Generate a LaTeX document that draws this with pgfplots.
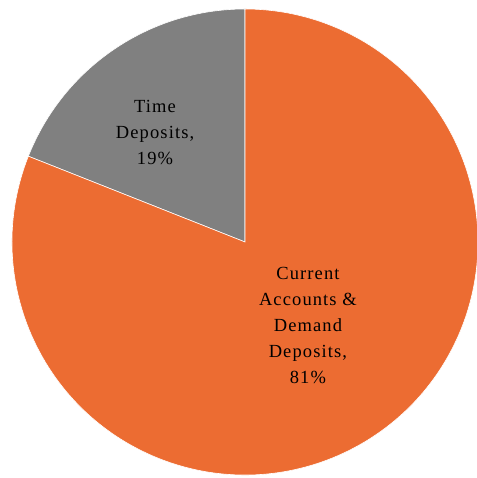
\documentclass[border=0pt]{standalone}
\usepackage{pgfplots}
\pgfplotsset{compat=1.18}
\usepackage{fontspec}
\setmainfont{Liberation Serif}[LetterSpace=6]
\definecolor{sliceorange}{HTML}{EC6C32}
\definecolor{slicegray}{HTML}{808080}

% shares in percent
\def\timeshare{19}
\def\currentshare{81}

\begin{document}
\begin{tikzpicture}
\pgfmathsetmacro{\edgeangle}{90+3.6*\timeshare}
\pgfmathsetmacro{\edgex}{cos(\edgeangle)}
\pgfmathsetmacro{\edgey}{sin(\edgeangle)}
\begin{axis}[
    x=233bp, y=233bp,
    xmin=-1.0515, xmax=0.9957,
    ymin=-1.0129, ymax=1.0386,
    hide axis,
    clip=true,
]
% keep the whole axis area as the picture's extent
\path (axis cs:-1.0515,-1.0129) rectangle (axis cs:0.9957,1.0386);
% Time Deposits slice, starting at 12 o'clock going anticlockwise
\fill[slicegray, draw=white, line width=0.6pt]
    (axis cs:0,0) -- (axis cs:0,1)
    arc[start angle=90, end angle=\edgeangle, radius=233bp] -- cycle;
% Current Accounts & Demand Deposits slice
\fill[sliceorange, draw=white, line width=0.6pt]
    (axis cs:0,0) -- (axis cs:\edgex,\edgey)
    arc[start angle=\edgeangle, end angle=450, radius=233bp] -- cycle;

\node[align=center, font=\fontsize{18.5bp}{26bp}\selectfont]
    at (axis cs:-0.386,0.47) {Time\\Deposits,\\\timeshare\%};
\node[align=center, font=\fontsize{18.5bp}{26bp}\selectfont]
    at (axis cs:0.27,-0.36) {Current\\Accounts \&\\Demand\\Deposits,\\\currentshare\%};
\end{axis}
\end{tikzpicture}
\end{document}
